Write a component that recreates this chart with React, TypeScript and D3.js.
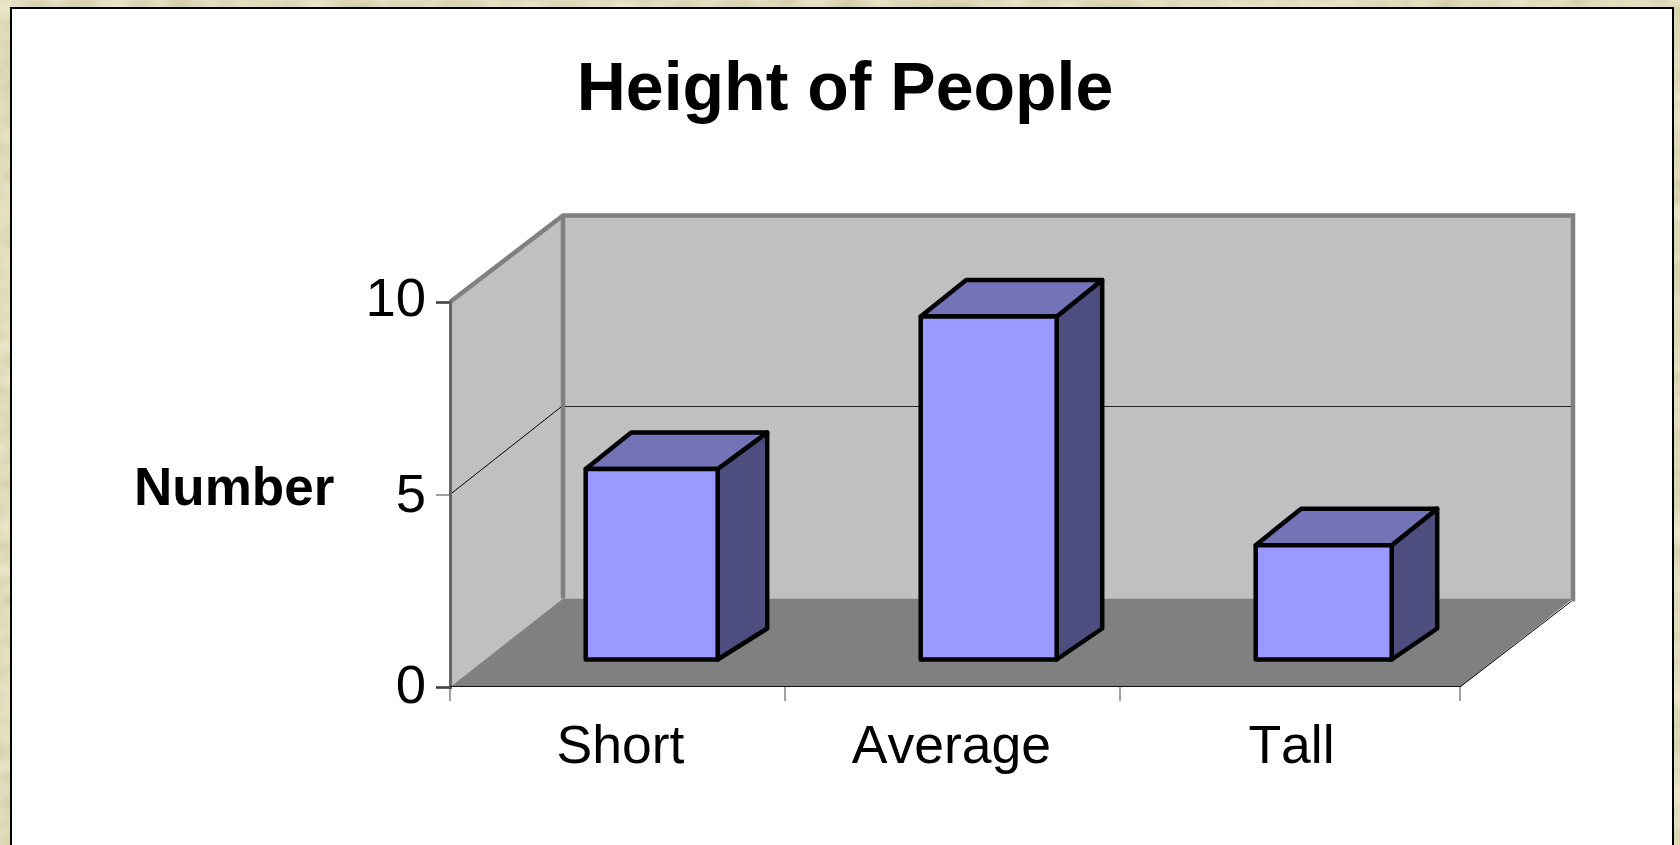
import React, { useRef, useEffect } from 'react';
import * as d3 from 'd3';

const categories = ['Short', 'Average', 'Tall'];
const counts = [5, 9, 3];
const yTicks = [0, 5, 10];

const width = 1680;
const height = 845;
const font = '"Liberation Sans", Arial, sans-serif';

// floor/wall offset of the fake 3d box
const depthX = 113;
// bars are a shallower box, and the source draws the bottom edge a bit flatter
const barDepthX = 45.5;
const barDepthTop = 36.5;
const barDepthBottom = 31;
const barOffset = 135.7;
const barWidth = 136;
// Short's front face is narrower than its back in the source
const frontTrim = [4, 0, 0];
// category labels are not quite centred on their bands
const labelNudge = [3, -1, 4];

const App = () => {
    const svgRef = useRef<SVGSVGElement>(null);

    useEffect(() => {
        const svg = d3.select(svgRef.current);
        svg.selectAll('*').remove();

        const x = d3.scaleBand().domain(categories).range([450, 1455]);
        const xEnd = 1460;
        const y = d3.scaleLinear().domain([0, 10]).range([687, 302]);
        const yBack = d3.scaleLinear().domain([0, 10]).range([598.5, 215.5]);
        const yBar = d3.scaleLinear().domain([0, 10]).range([659.5, 278.5]);

        const line = d3.line();

        // paper texture behind the card
        const filter = svg.append('defs').append('filter')
            .attr('id', 'paper')
            .attr('x', 0).attr('y', 0)
            .attr('width', '100%').attr('height', '100%')
            .attr('color-interpolation-filters', 'sRGB');
        filter.append('feTurbulence')
            .attr('type', 'fractalNoise')
            .attr('baseFrequency', '0.03 0.05')
            .attr('numOctaves', 2)
            .attr('seed', 4);
        filter.append('feColorMatrix')
            .attr('type', 'matrix')
            .attr('values', '0.16 0 0 0 0.8  0.16 0 0 0 0.78  0.22 0 0 0 0.62  0 0 0 0 1');

        svg.append('rect')
            .attr('width', width).attr('height', height)
            .attr('filter', 'url(#paper)');

        // card, no bottom edge
        svg.append('rect')
            .attr('x', 11).attr('y', 8)
            .attr('width', 1662).attr('height', height)
            .attr('fill', '#fff')
            .attr('stroke', '#000')
            .attr('stroke-width', 2);

        svg.append('text')
            .attr('x', 845).attr('y', 109.5)
            .attr('text-anchor', 'middle')
            .attr('font-family', font)
            .attr('font-weight', 700)
            .attr('font-size', 68)
            .text('Height of People');

        svg.append('text')
            .attr('x', 134).attr('y', 505)
            .attr('font-family', font)
            .attr('font-weight', 700)
            .attr('font-size', 53)
            .text('Number');

        // walls and floor
        const x0 = x(categories[0])!;
        const xBack = x0 + depthX;
        const xBackEnd = xEnd + depthX;

        svg.append('path')
            .attr('fill', '#c0c0c0')
            .attr('d', line([[xBack, yBack(10)], [xBackEnd, yBack(10)], [xBackEnd, yBack(0)], [xBack, yBack(0)]]) + 'Z');
        svg.append('path')
            .attr('fill', '#c0c0c0')
            .attr('d', line([[x0, y(10)], [xBack, yBack(10)], [xBack, yBack(0)], [x0, y(0)]]) + 'Z');
        svg.append('path')
            .attr('fill', '#808080')
            .attr('d', line([[x0, y(0)], [xBack, yBack(0)], [xBackEnd, yBack(0)], [xEnd, y(0)]]) + 'Z');

        // wall edges
        svg.append('path')
            .attr('fill', 'none')
            .attr('stroke', '#808080')
            .attr('stroke-width', 4.5)
            .attr('d', line([[x0, y(10)], [xBack, yBack(10)], [xBackEnd, yBack(10)], [xBackEnd, yBack(0) + 3]]));
        svg.append('path')
            .attr('fill', 'none')
            .attr('stroke', '#808080')
            .attr('stroke-width', 4.5)
            .attr('d', line([[xBack, yBack(10)], [xBack, yBack(0)]]));

        // gridline at 5, along side wall and back wall
        svg.append('path')
            .attr('fill', 'none')
            .attr('stroke', '#000')
            .attr('stroke-width', 1)
            .attr('d', line([[x0, y(5)], [xBack - 2, yBack(5)]]));
        svg.append('line')
            .attr('x1', xBack + 2).attr('x2', xBackEnd - 2)
            .attr('y1', yBack(5) - 0.5).attr('y2', yBack(5) - 0.5)
            .attr('stroke', '#222')
            .attr('stroke-width', 1);

        // front right floor edge
        svg.append('path')
            .attr('fill', 'none')
            .attr('stroke', '#000')
            .attr('stroke-width', 1)
            .attr('d', line([[xEnd, y(0)], [xBackEnd - 2, yBack(0) + 3]]));

        // axes
        const yAxis = d3.axisLeft(y)
            .tickValues(yTicks)
            .tickSize(14)
            .tickPadding(10)
            .tickFormat(d3.format('d'));
        const yG = svg.append('g')
            .attr('transform', `translate(${x0}, 0)`)
            .call(yAxis);
        yG.select('.domain').attr('stroke', '#666').attr('stroke-width', 3);
        yG.selectAll('.tick line').attr('stroke', '#444');
        // labels don't sit evenly on their ticks in the source
        yG.selectAll<SVGTextElement, number>('.tick text')
            .attr('font-family', font)
            .attr('font-size', 54.5)
            .attr('fill', '#000')
            .attr('dy', d => (d === 10 ? '0.24em' : d === 5 ? '0.31em' : '0.28em'));

        svg.append('line')
            .attr('x1', x0).attr('x2', xEnd)
            .attr('y1', y(0) - 0.5).attr('y2', y(0) - 0.5)
            .attr('stroke', '#111')
            .attr('stroke-width', 1);

        const tickXs = [...categories.map(c => x(c)!), xEnd];
        svg.selectAll('.x-tick')
            .data(tickXs)
            .join('line')
            .attr('class', 'x-tick')
            .attr('x1', d => d).attr('x2', d => d)
            .attr('y1', y(0)).attr('y2', y(0) + 14)
            .attr('stroke', '#444');

        svg.selectAll('.x-label')
            .data(categories)
            .join('text')
            .attr('class', 'x-label')
            .attr('x', (d, i) => x(d)! + x.bandwidth() / 2 + labelNudge[i])
            .attr('y', 762.5)
            .attr('text-anchor', 'middle')
            .attr('font-family', font)
            .attr('font-size', 53.5)
            .style('font-kerning', 'none')
            .text(d => d);

        // bars
        const bars = svg.selectAll('.bar')
            .data(categories)
            .join('g')
            .attr('class', 'bar')
            .attr('stroke', '#000')
            .attr('stroke-width', 4.5)
            .attr('stroke-linejoin', 'round');

        bars.each(function (c, i) {
            const g = d3.select(this);
            const left = x(c)! + barOffset;
            const right = left + barWidth - frontTrim[i];
            const backLeft = left + barDepthX;
            const backRight = left + barWidth + barDepthX;
            const top = yBar(counts[i]);
            const bottom = yBar(0);
            const backTop = top - barDepthTop;
            const backBottom = bottom - barDepthBottom;

            g.append('path')
                .attr('fill', '#4d4d80')
                .attr('d', line([[right, top], [backRight, backTop], [backRight, backBottom], [right, bottom]]) + 'Z');
            g.append('path')
                .attr('fill', '#7373b8')
                .attr('d', line([[left, top], [backLeft, backTop], [backRight, backTop], [right, top]]) + 'Z');
            g.append('path')
                .attr('fill', '#9999ff')
                .attr('d', line([[left, top], [right, top], [right, bottom], [left, bottom]]) + 'Z');
        });
    }, []);

    return (
        <svg
            ref={svgRef}
            width={width}
            height={height}
            style={{ position: 'absolute', left: 0, top: 0, display: 'block' }}
        />
    );
};

export default App;
